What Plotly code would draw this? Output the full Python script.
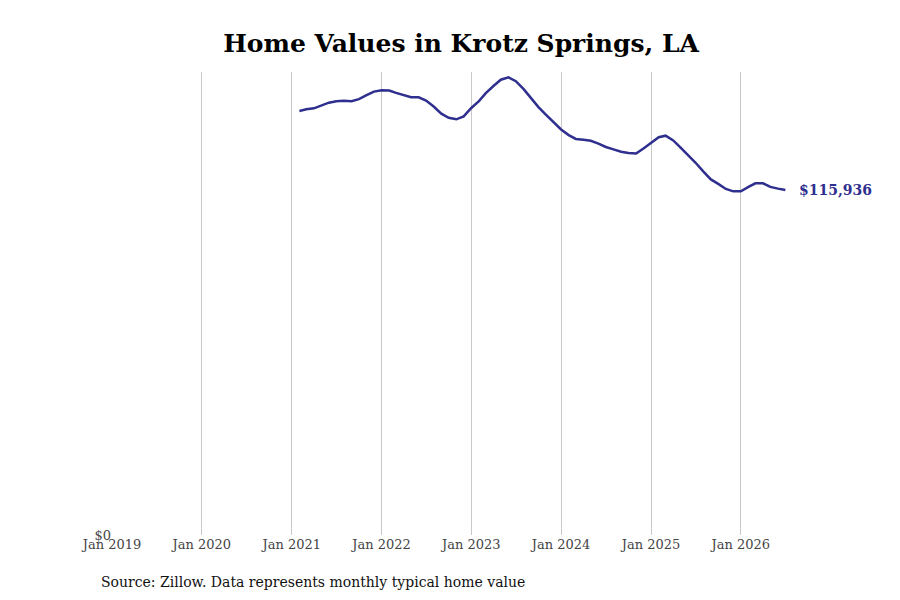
import pandas as pd
import plotly.graph_objects as go

# Monthly typical home value, Feb 2021 - Jul 2026
fechas = pd.date_range('2021-02-01', '2026-07-01', freq='MS')
valores = [
    142500, 143100, 143400, 144400, 145300, 145800, 145950, 145800, 146500, 147800, 149000,  # 2021
    149500, 149400, 148600, 147800, 147100, 147100, 146000, 144000, 141600, 140200, 139700, 140700,  # 2022
    143500, 145800, 148500, 150900, 153000, 153800, 152500, 149900, 146800, 143800, 141200, 138700,  # 2023
    136300, 134400, 133100, 132800, 132500, 131500, 130400, 129600, 128800, 128400, 128200, 129900,  # 2024
    131800, 133700, 134200, 132600, 130200, 127700, 125100, 122200, 119500, 118000, 116300, 115500,  # 2025
    115500, 117000, 118200, 118200, 117000, 116400, 115936,  # 2026
]
ultimo = valores[-1]
color = '#2f2f8f'

fig = go.Figure()
fig.add_trace(go.Scatter(x=fechas, y=valores, mode='lines',
                         line=dict(color=color, width=2.5),
                         hoverinfo='skip'))

# etiqueta del ultimo valor
fig.add_annotation(x=fechas[-1], y=ultimo, text=f'<b>${ultimo:,}</b>',
                   showarrow=False, xanchor='left', xshift=12,
                   font=dict(family='DejaVu Serif', size=14, color=color))

fig.add_annotation(text='Source: Zillow. Data represents monthly typical home value',
                   xref='paper', yref='paper', x=-0.019, y=-0.102,
                   xanchor='left', yanchor='middle', showarrow=False,
                   font=dict(family='DejaVu Serif', size=14, color='#111'))

fig.update_layout(
    width=884, height=584,
    title=dict(text='<b>Home Values in Krotz Springs, LA</b>', x=0.5125, xanchor='center',
               y=0.940, yanchor='middle',
               font=dict(family='DejaVu Serif', size=25, color='black')),
    plot_bgcolor='white', paper_bgcolor='white',
    margin=dict(l=104, r=99, t=64, b=57),
    showlegend=False,
    font=dict(family='DejaVu Serif', size=13, color='#444'),
)
fig.update_xaxes(range=['2019-01-01', '2026-08-01'],
                 tickvals=pd.date_range('2019-01-01', '2026-01-01', freq='YS'),
                 tickformat='%b %Y', showgrid=True, gridcolor='#c8c8c8', gridwidth=1,
                 zeroline=False, showline=False, ticks='')
fig.update_yaxes(range=[0, 155600], tickvals=[0], ticktext=['$0'],
                 showgrid=False, zeroline=False, showline=False, ticks='')

fig.write_html('out.html')
